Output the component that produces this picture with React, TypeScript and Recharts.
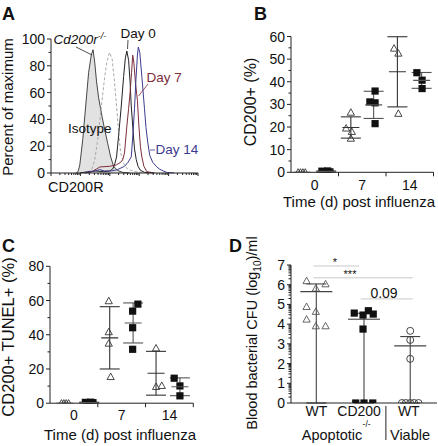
import React from 'react';
import {
  ComposedChart,
  ScatterChart,
  Scatter,
  Line,
  Area,
  XAxis,
  YAxis,
  ErrorBar,
  ReferenceLine,
} from 'recharts';

const FONT = '"Liberation Sans", Arial, Helvetica, sans-serif';
const AXIS = '#222';

// ---------------- Panel A: histograms (x = log10 fluorescence, y = % of max) ----------------
const histCd200rKO = [
  { x: 0.85, y: 0 }, { x: 0.92, y: 1 }, { x: 0.98, y: 6 }, { x: 1.08, y: 25 }, { x: 1.18, y: 50 },
  { x: 1.28, y: 75 }, { x: 1.37, y: 88 }, { x: 1.43, y: 92 }, { x: 1.49, y: 82 }, { x: 1.55, y: 68 },
  { x: 1.62, y: 56 }, { x: 1.72, y: 44 }, { x: 1.82, y: 33 }, { x: 1.93, y: 22 }, { x: 2.03, y: 12 },
  { x: 2.13, y: 5 }, { x: 2.26, y: 2 }, { x: 2.43, y: 0.5 }, { x: 2.67, y: 0 },
];
const histIsotype = [
  { x: 1.25, y: 0.5 }, { x: 1.39, y: 3 }, { x: 1.49, y: 10 }, { x: 1.59, y: 25 }, { x: 1.69, y: 45 },
  { x: 1.79, y: 65 }, { x: 1.89, y: 82 }, { x: 1.99, y: 90 }, { x: 2.08, y: 85 }, { x: 2.16, y: 68 },
  { x: 2.23, y: 50 }, { x: 2.3, y: 30 }, { x: 2.37, y: 15 }, { x: 2.47, y: 7 }, { x: 2.6, y: 3 },
  { x: 2.84, y: 1 }, { x: 3.18, y: 0.3 },
];
const histDay0 = [
  { x: 0.98, y: 0 }, { x: 1.25, y: 1 }, { x: 1.52, y: 1.5 }, { x: 1.79, y: 1 }, { x: 1.99, y: 1.5 },
  { x: 2.1, y: 3 }, { x: 2.16, y: 6 }, { x: 2.23, y: 12 }, { x: 2.3, y: 28 }, { x: 2.39, y: 50 },
  { x: 2.47, y: 72 }, { x: 2.53, y: 86 }, { x: 2.58, y: 91 }, { x: 2.64, y: 84 }, { x: 2.69, y: 68 },
  { x: 2.73, y: 50 }, { x: 2.79, y: 32 }, { x: 2.84, y: 18 }, { x: 2.9, y: 10 }, { x: 2.96, y: 5 },
  { x: 3.04, y: 2 }, { x: 3.18, y: 0.5 }, { x: 3.51, y: 0 },
];
const histDay7 = [
  { x: 1.15, y: 0 }, { x: 1.39, y: 1 }, { x: 1.55, y: 3 }, { x: 1.66, y: 4.5 }, { x: 1.99, y: 5 },
  { x: 2.22, y: 6 }, { x: 2.37, y: 8 }, { x: 2.44, y: 10 }, { x: 2.5, y: 15 }, { x: 2.58, y: 35 },
  { x: 2.64, y: 48 }, { x: 2.69, y: 60 }, { x: 2.74, y: 75 }, { x: 2.78, y: 88 }, { x: 2.82, y: 82 },
  { x: 2.87, y: 68 }, { x: 2.94, y: 54 }, { x: 2.99, y: 35 }, { x: 3.04, y: 20 }, { x: 3.09, y: 12 },
  { x: 3.16, y: 5 }, { x: 3.26, y: 1 }, { x: 3.51, y: 0 },
];
const histDay14 = [
  { x: 1.15, y: 0 }, { x: 1.49, y: 1.5 }, { x: 1.66, y: 2.5 }, { x: 1.82, y: 1.5 }, { x: 2.06, y: 1.5 },
  { x: 2.26, y: 2.5 }, { x: 2.5, y: 5 }, { x: 2.62, y: 8 }, { x: 2.73, y: 12 }, { x: 2.79, y: 30 },
  { x: 2.84, y: 48 }, { x: 2.89, y: 70 }, { x: 2.94, y: 88 }, { x: 2.97, y: 94 }, { x: 3.02, y: 90 },
  { x: 3.09, y: 72 }, { x: 3.18, y: 48 }, { x: 3.23, y: 34 }, { x: 3.29, y: 23 }, { x: 3.36, y: 13 },
  { x: 3.46, y: 8 }, { x: 3.58, y: 5 }, { x: 3.68, y: 3 }, { x: 3.82, y: 1.5 }, { x: 3.96, y: 0.3 },
  { x: 4.19, y: 0 },
];
const aYTicks = [0, 10, 20, 30, 40, 50, 60, 70, 80, 90, 100];
const aDecades = [0, 1, 2, 3, 4, 5];
const aXTicks: number[] = [];
aDecades.forEach((d) => {
  aXTicks.push(d);
  if (d < 5) [2, 3, 4, 5, 6, 7, 8, 9].forEach((m) => aXTicks.push(d + Math.log10(m)));
});

// ---------------- Panel B: CD200+ (%) ----------------
const timeLabels = ['0', '7', '14'];
const bTriangles = [
  { x: 0.15, y: 0 }, { x: 0.2, y: 0 }, { x: 0.25, y: 0 }, { x: 0.3, y: 0 },
  { x: 1.16, y: 19.5 }, { x: 1.26, y: 26.5 }, { x: 1.28, y: 18 }, { x: 1.26, y: 15 },
  { x: 2.17, y: 54.8 }, { x: 2.26, y: 52.6 }, { x: 2.26, y: 26 },
];
const bSquares = [
  { x: 0.65, y: 0.5 }, { x: 0.72, y: 0.3 }, { x: 0.77, y: 0.6 }, { x: 0.82, y: 0.2 },
  { x: 1.66, y: 31.1 }, { x: 1.77, y: 35.9 }, { x: 1.77, y: 30.7 }, { x: 1.77, y: 21.5 },
  { x: 2.65, y: 44 }, { x: 2.76, y: 40.7 }, { x: 2.76, y: 37 },
];
const bTriMeans = [
  { x: 0.23, y: 0, err: 0 },
  { x: 1.26, y: 19.8, err: 4.7 },
  { x: 2.24, y: 44.4, err: 15.5 },
];
const bSqMeans = [
  { x: 0.74, y: 0.4, err: 0.2 },
  { x: 1.74, y: 29.8, err: 6 },
  { x: 2.75, y: 40.6, err: 3.5 },
];
const bYTicks = [0, 5, 10, 15, 20, 25, 30, 35, 40, 45, 50, 55, 60];

// ---------------- Panel C: CD200+ TUNEL+ (%) ----------------
const cTriangles = [
  { x: 0.24, y: 0 }, { x: 0.29, y: 0 }, { x: 0.34, y: 0 }, { x: 0.39, y: 0 },
  { x: 1.23, y: 59.8 }, { x: 1.23, y: 41.7 }, { x: 1.23, y: 35 }, { x: 1.27, y: 15.5 },
  { x: 2.22, y: 32.2 }, { x: 2.22, y: 9.7 }, { x: 2.34, y: 10.3 },
];
const cSquares = [
  { x: 0.74, y: 0.5 }, { x: 0.8, y: 0.3 }, { x: 0.85, y: 0.6 }, { x: 0.9, y: 0.3 },
  { x: 1.84, y: 57.9 }, { x: 1.73, y: 53.8 }, { x: 1.73, y: 44.1 }, { x: 1.73, y: 31.5 },
  { x: 2.6, y: 14.6 }, { x: 2.72, y: 10.1 }, { x: 2.72, y: 4.3 },
];
const cTriMeans = [
  { x: 0.31, y: 0, err: 0 },
  { x: 1.25, y: 38.2, err: 18.2 },
  { x: 2.22, y: 17.5, err: 12.8 },
];
const cSqMeans = [
  { x: 0.82, y: 0.4, err: 0.2 },
  { x: 1.74, y: 46.9, err: 11.7 },
  { x: 2.72, y: 9.6, err: 5.2 },
];
const cYTicks = [0, 10, 20, 30, 40, 50, 60, 70, 80];

// ---------------- Panel D: Blood bacterial CFU (log10)/ml ----------------
const dGroupLabels = ['WT', 'CD200', 'WT'];
const dGroupCenters = [0.52, 1.4, 2.42];
const dGroupSeparator = 1.95;
const dWTApoptotic = [
  { x: 0.32, y: 6.2 }, { x: 0.71, y: 6.04 }, { x: 0.51, y: 5.82 }, { x: 0.32, y: 4.89 },
  { x: 0.51, y: 4.64 }, { x: 0.32, y: 4.25 }, { x: 0.51, y: 3.91 }, { x: 0.71, y: 3.91 },
];
const dCD200KO = [
  { x: 1.3, y: 4.56 }, { x: 1.48, y: 4.46 }, { x: 1.59, y: 4.68 }, { x: 1.69, y: 4.51 },
  { x: 1.48, y: 3.75 }, { x: 1.33, y: 0 }, { x: 1.5, y: 0 }, { x: 1.68, y: 0 },
];
const dWTViable = [
  { x: 2.45, y: 3.66 }, { x: 2.45, y: 3.2 }, { x: 2.45, y: 2.24 },
  { x: 2.28, y: 0 }, { x: 2.36, y: 0 }, { x: 2.45, y: 0 }, { x: 2.53, y: 0 }, { x: 2.62, y: 0 },
];
const dMeans = [
  { x: 0.52, y: 5.65, err: [5.65, 0.39] },
  { x: 1.5, y: 4.25, err: [4.25, 0.3] },
  { x: 2.45, y: 2.9, err: [2.9, 0.47] },
];
const dSignif = [
  { x1: 0.46, x2: 1.4, y: 6.95, label: '*' },
  { x1: 0.46, x2: 2.5, y: 6.35, label: '***' },
  { x1: 1.43, x2: 2.5, y: 5.28, label: '0.09' },
];
const dYTicks: number[] = [];
[0, 1, 2, 3, 4, 5, 6, 7].forEach((d) => {
  dYTicks.push(d);
  if (d < 7) [2, 3, 4, 5, 6, 7, 8, 9].forEach((m) => dYTicks.push(d + Math.log10(m)));
});

// ---------------- helpers ----------------
const isMult = (v: number, step: number) => Math.abs(v / step - Math.round(v / step)) < 1e-6;

function makeYTick(isMajor: (v: number) => boolean, major: number, minor: number, fontSize: number) {
  return (props: any) => {
    const { x, y, payload } = props;
    const v = payload.value as number;
    const mj = isMajor(v);
    return (
      <g>
        <line x1={x} y1={y} x2={x - (mj ? major : minor)} y2={y} stroke={AXIS} strokeWidth={1} />
        {mj && (
          <text x={x - major - 2} y={y} dy="0.36em" textAnchor="end" fontSize={fontSize} fontFamily={FONT} fill="#111">
            {Math.round(v)}
          </text>
        )}
      </g>
    );
  };
}

function makeCatXTick(labels: string[], fontSize: number, tickLen: number, labelY: number) {
  return (props: any) => {
    const { x, y, payload } = props;
    const v = payload.value as number;
    if (isMult(v, 1)) {
      if (v === 0) return <g />;
      return <line x1={x} y1={y} x2={x} y2={y + tickLen} stroke={AXIS} strokeWidth={1} />;
    }
    return (
      <text x={x} y={y + labelY} textAnchor="middle" fontSize={fontSize} fontFamily={FONT} fill="#111">
        {labels[Math.floor(v)]}
      </text>
    );
  };
}

const aXTick = (props: any) => {
  const { x, y, payload } = props;
  const v = payload.value as number;
  const mj = isMult(v, 1);
  return <line x1={x} y1={y} x2={x} y2={y + (mj ? 3 : 2)} stroke={AXIS} strokeWidth={1} />;
};

const dXTick = (props: any) => {
  const { x, y, payload } = props;
  const v = payload.value as number;
  if (Math.abs(v - dGroupSeparator) < 1e-6) {
    return <line x1={x} y1={y + 3} x2={x} y2={y + 37} stroke={AXIS} strokeWidth={1} />;
  }
  const idx = dGroupCenters.findIndex((c) => Math.abs(c - v) < 1e-6);
  return (
    <g>
      <text x={x} y={y + 12.5} textAnchor="middle" fontSize={14} fontFamily={FONT} fill="#111">
        {dGroupLabels[idx]}
      </text>
      {idx === 1 && (
        <text x={x + 7.5} y={y + 23.5} textAnchor="middle" fontSize={8.5} fontFamily={FONT} fill="#111">
          -/-
        </text>
      )}
    </g>
  );
};

const TriangleShape = (stroke: string) => (p: any) => {
  const { cx, cy } = p;
  if (cx == null || cy == null) return <g />;
  const s = 3.6;
  return (
    <path
      d={`M${cx},${cy - s} L${cx + s},${cy + s * 0.8} L${cx - s},${cy + s * 0.8} Z`}
      fill="none"
      stroke={stroke}
      strokeWidth={0.9}
    />
  );
};
const SquareShape = (p: any) => {
  const { cx, cy } = p;
  if (cx == null || cy == null) return <g />;
  return <rect x={cx - 3.6} y={cy - 3.6} width={7.2} height={7.2} fill="#111" />;
};
const CircleShape = (p: any) => {
  const { cx, cy } = p;
  if (cx == null || cy == null) return <g />;
  return <circle cx={cx} cy={cy} r={3.5} fill="none" stroke="#333" strokeWidth={0.9} />;
};
const MeanShape = (hw: number, stroke: string) => (p: any) => {
  const { cx, cy } = p;
  if (cx == null || cy == null) return <g />;
  return <line x1={cx - hw} y1={cy} x2={cx + hw} y2={cy} stroke={stroke} strokeWidth={1.1} />;
};

// ---------------- Panels ----------------
function PanelA() {
  return (
    <ComposedChart width={219} height={223} margin={{ top: 39, right: 21, bottom: 30, left: 0 }}>
      <XAxis
        type="number"
        dataKey="x"
        height={20}
        domain={[0, 5]}
        ticks={aXTicks}
        interval={0}
        tickSize={0}
        tickMargin={0}
        tick={aXTick}
        axisLine={{ stroke: AXIS }}
        allowDataOverflow
      />
      <YAxis
        type="number"
        width={51}
        domain={[0, 100]}
        ticks={aYTicks}
        interval={0}
        tickSize={0}
        tickMargin={0}
        tick={makeYTick((v) => isMult(v, 20), 4, 2.5, 14)}
        axisLine={{ stroke: AXIS }}
      />
      <Area
        data={histCd200rKO}
        dataKey="y"
        type="linear"
        fill="#e2e2e2"
        fillOpacity={1}
        stroke="#333"
        strokeWidth={0.9}
        isAnimationActive={false}
        dot={false}
        activeDot={false}
      />
      <Line data={histIsotype} dataKey="y" type="linear" stroke="#aaa" strokeWidth={1} strokeDasharray="3 2" dot={false} activeDot={false} isAnimationActive={false} />
      <Line data={histDay0} dataKey="y" type="linear" stroke="#222" strokeWidth={1} dot={false} activeDot={false} isAnimationActive={false} />
      <Line data={histDay7} dataKey="y" type="linear" stroke="#7b2d3c" strokeWidth={1} dot={false} activeDot={false} isAnimationActive={false} />
      <Line data={histDay14} dataKey="y" type="linear" stroke="#3d3b8e" strokeWidth={1} dot={false} activeDot={false} isAnimationActive={false} />
    </ComposedChart>
  );
}

function DotPanel(props: {
  triangles: any[];
  squares: any[];
  triMeans: any[];
  sqMeans: any[];
  yMax: number;
  yTicks: number[];
  labelEvery: number;
  margin: any;
  yWidth: number;
  labelY: number;
}) {
  const { triangles, squares, triMeans, sqMeans, yMax, yTicks, labelEvery, margin, yWidth, labelY } = props;
  return (
    <ScatterChart width={219} height={223} margin={margin}>
      <XAxis
        type="number"
        dataKey="x"
        height={20}
        domain={[0, 3]}
        ticks={[0.5, 1, 1.5, 2, 2.5, 3]}
        interval={0}
        tickSize={0}
        tickMargin={0}
        tick={makeCatXTick(timeLabels, 14, 4, labelY)}
        axisLine={{ stroke: AXIS }}
        allowDataOverflow
      />
      <YAxis
        type="number"
        dataKey="y"
        width={yWidth}
        domain={[0, yMax]}
        ticks={yTicks}
        interval={0}
        tickSize={0}
        tickMargin={0}
        tick={makeYTick((v) => isMult(v, labelEvery), 4, 2.5, 14)}
        axisLine={{ stroke: AXIS }}
        allowDataOverflow
      />
      <Scatter data={triangles} shape={TriangleShape('#333')} isAnimationActive={false} />
      <Scatter data={squares} shape={SquareShape} isAnimationActive={false} />
      <Scatter data={triMeans} shape={MeanShape(8.5, '#333')} isAnimationActive={false}>
        <ErrorBar dataKey="err" direction="y" width={10} stroke="#333" strokeWidth={1.1} isAnimationActive={false} />
      </Scatter>
      <Scatter data={sqMeans} shape={MeanShape(8.5, '#555')} isAnimationActive={false}>
        <ErrorBar dataKey="err" direction="y" width={10} stroke="#555" strokeWidth={1.1} isAnimationActive={false} />
      </Scatter>
    </ScatterChart>
  );
}

function PanelD() {
  return (
    <ScatterChart width={219} height={223} margin={{ top: 42, right: 1, bottom: 23, left: 0 }}>
      <XAxis
        type="number"
        dataKey="x"
        height={20}
        domain={[0, 3]}
        ticks={[...dGroupCenters, dGroupSeparator]}
        interval={0}
        tickSize={0}
        tickMargin={0}
        tick={dXTick}
        axisLine={{ stroke: AXIS }}
        allowDataOverflow
      />
      <YAxis
        type="number"
        dataKey="y"
        width={72}
        domain={[0, 7]}
        ticks={dYTicks}
        interval={0}
        tickSize={0}
        tickMargin={0}
        tick={makeYTick((v) => isMult(v, 1), 4, 2.5, 14)}
        axisLine={{ stroke: AXIS }}
        allowDataOverflow
      />
      {dSignif.map((s, i) => (
        <ReferenceLine
          key={i}
          segment={[{ x: s.x1, y: s.y }, { x: s.x2, y: s.y }]}
          stroke="#c8c8c8"
          strokeWidth={1}
        />
      ))}
      <Scatter data={dWTApoptotic} shape={TriangleShape('#555')} isAnimationActive={false} />
      <Scatter data={dCD200KO} shape={SquareShape} isAnimationActive={false} />
      <Scatter data={dWTViable} shape={CircleShape} isAnimationActive={false} />
      <Scatter data={dMeans} shape={MeanShape(16, '#444')} isAnimationActive={false}>
        <ErrorBar dataKey="err" direction="y" width={10} stroke="#444" strokeWidth={1.1} isAnimationActive={false} />
      </Scatter>
    </ScatterChart>
  );
}

function Overlay() {
  const t = { fontFamily: FONT, fill: '#111' } as any;
  return (
    <svg width={438} height={446} style={{ position: 'absolute', left: 0, top: 0, pointerEvents: 'none' }}>
      {/* panel letters */}
      <text x={2} y={20} fontSize={18} fontWeight="bold" {...t}>A</text>
      <text x={254} y={19.5} fontSize={18} fontWeight="bold" {...t}>B</text>
      <text x={2} y={251.5} fontSize={18} fontWeight="bold" {...t}>C</text>
      <text x={229} y={251.5} fontSize={18} fontWeight="bold" {...t}>D</text>

      {/* Panel A */}
      <text transform="translate(13,107) rotate(-90)" textAnchor="middle" fontSize={15} {...t}>Percent of maximum</text>
      <text x={48} y={192} fontSize={14.5} {...t}>CD200R</text>
      <text x={53.5} y={43.5} fontSize={13.5} fontStyle="italic" {...t}>
        Cd200r<tspan fontSize={9} dy={-5}>-/-</tspan>
      </text>
      <line x1={76} y1={47} x2={92} y2={55} stroke="#222" strokeWidth={0.8} />
      <text x={120.5} y={37.5} fontSize={13.5} {...t}>Day 0</text>
      <line x1={128} y1={40} x2={127.5} y2={49} stroke="#222" strokeWidth={0.8} />
      <text x={146.5} y={81.5} fontSize={13.5} fontFamily={FONT} fill="#7b2d3c">Day 7</text>
      <line x1={148} y1={84} x2={138.5} y2={96} stroke="#7b2d3c" strokeWidth={0.8} />
      <text x={68} y={133} fontSize={13.5} {...t}>Isotype</text>
      <line x1={150} y1={150} x2={155} y2={150} stroke="#3d3b8e" strokeWidth={0.8} />
      <text x={155.5} y={154} fontSize={13.5} fontFamily={FONT} fill="#3d3b8e">Day 14</text>

      {/* Panel B */}
      <text transform="translate(256,102) rotate(-90)" textAnchor="middle" fontSize={16} {...t}>CD200+ (%)</text>
      <text x={359} y={206.5} textAnchor="middle" fontSize={15} {...t}>Time (d) post influenza</text>

      {/* Panel C */}
      <text transform="translate(13.5,337) rotate(-90)" textAnchor="middle" fontSize={16.5} {...t}>CD200+ TUNEL+ (%)</text>
      <text x={120} y={439.5} textAnchor="middle" fontSize={15} {...t}>Time (d) post influenza</text>

      {/* Panel D */}
      <text transform="translate(257,333) rotate(-90)" textAnchor="middle" fontSize={14.5} {...t}>
        Blood bacterial CFU (log<tspan fontSize={10} dy={4}>10</tspan><tspan dy={-4}>)/ml</tspan>
      </text>
      <text x={332} y={439.5} textAnchor="middle" fontSize={14.5} {...t}>Apoptotic</text>
      <text x={410} y={439.5} textAnchor="middle" fontSize={14.5} {...t}>Viable</text>
      <text x={335} y={266} textAnchor="middle" fontSize={11} {...t}>*</text>
      <text x={350} y={278} textAnchor="middle" fontSize={11} {...t}>***</text>
      <text x={384} y={297.5} textAnchor="middle" fontSize={14} {...t}>0.09</text>
    </svg>
  );
}

export default function App() {
  return (
    <div style={{ position: 'absolute', left: 0, top: 0, width: 438, height: 446, background: '#fff' }}>
      <div style={{ position: 'absolute', left: 0, top: 0 }}>
        <PanelA />
      </div>
      <div style={{ position: 'absolute', left: 219, top: 0 }}>
        <DotPanel
          triangles={bTriangles}
          squares={bSquares}
          triMeans={bTriMeans}
          sqMeans={bSqMeans}
          yMax={60}
          yTicks={bYTicks}
          labelEvery={10}
          margin={{ top: 36.5, right: 4.5, bottom: 30.7, left: 0 }}
          yWidth={72}
          labelY={17.5}
        />
      </div>
      <div style={{ position: 'absolute', left: 0, top: 223 }}>
        <DotPanel
          triangles={cTriangles}
          squares={cSquares}
          triMeans={cTriMeans}
          sqMeans={cSqMeans}
          yMax={80}
          yTicks={cYTicks}
          labelEvery={20}
          margin={{ top: 43.3, right: 25.7, bottom: 22.8, left: 0 }}
          yWidth={50}
          labelY={16.7}
        />
      </div>
      <div style={{ position: 'absolute', left: 219, top: 223 }}>
        <PanelD />
      </div>
      <Overlay />
    </div>
  );
}
